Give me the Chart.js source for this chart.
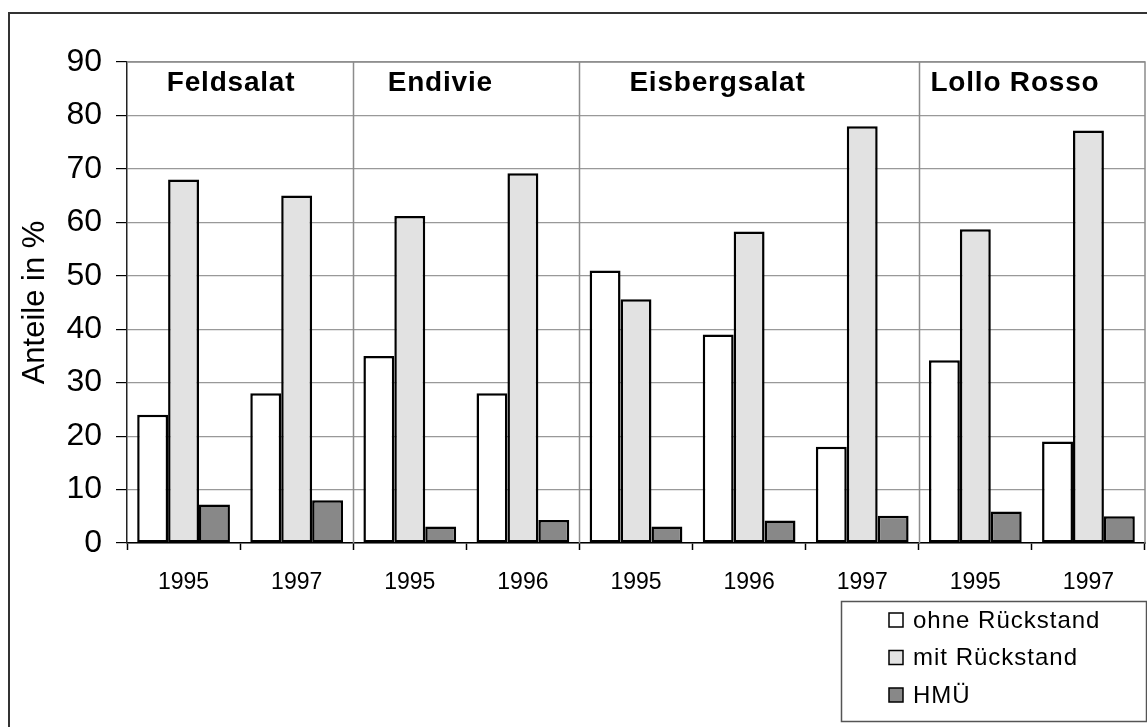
<!DOCTYPE html>
<html lang="de">
<head>
  <meta charset="utf-8">
  <title>Anteile in %</title>
  <style>
    * { box-sizing: border-box; margin: 0; padding: 0; }
    html, body { width: 1147px; height: 727px; background: #fff; overflow: hidden; }
    canvas { display: block; }
  </style>
  <script src="https://cdn.jsdelivr.net/npm/chart.js"></script>
</head>
<body>
  <canvas id="chart" width="1147" height="727"></canvas>
  <script>
    // data
    const years = ['1995', '1997', '1995', '1996', '1995', '1996', '1997', '1995', '1997'];
    const ohneRueckstand = [24, 28, 35, 28, 51, 39, 18, 34.2, 19];
    const mitRueckstand = [68, 65, 61.2, 69.2, 45.6, 58.3, 78, 58.7, 77.2];
    const hmue = [7.2, 8, 3.1, 4.3, 3.1, 4.2, 5.1, 5.9, 5];
    const yTicks = [0, 10, 20, 30, 40, 50, 60, 70, 80, 90];

    // vegetable groups: label, position (category units), boundary after group
    const groupNames = ['Feldsalat', 'Endivie', 'Eisbergsalat', 'Lollo Rosso'];
    const groupLabelAt = [0.42, 2.27, 4.72, 7.35];
    const groupBounds = [2, 4, 7];

    const FONT = "'Liberation Sans', Arial, sans-serif";

    const groupPlugin = {
      id: 'groups',
      beforeDatasetsDraw(chart) {
        const { ctx, chartArea: a } = chart;
        const cw = (a.right - a.left) / years.length;
        ctx.save();
        ctx.strokeStyle = '#8c8c8c';
        ctx.lineWidth = 1.5;
        // top and right frame of plot area
        ctx.beginPath();
        ctx.moveTo(a.left, a.top); ctx.lineTo(a.right, a.top); ctx.lineTo(a.right, a.bottom);
        ctx.stroke();
        groupBounds.forEach(b => {
          const px = Math.round(a.left + b * cw) + 0.5;
          ctx.beginPath(); ctx.moveTo(px, a.top); ctx.lineTo(px, a.bottom); ctx.stroke();
        });
        ctx.restore();
      },
      afterDraw(chart) {
        const { ctx, chartArea: a, scales: { y } } = chart;
        const cw = (a.right - a.left) / years.length;
        ctx.save();
        ctx.fillStyle = '#000';
        ctx.font = 'bold 28px ' + FONT;
        ctx.letterSpacing = '0.8px';
        ctx.textAlign = 'center';
        ctx.textBaseline = 'middle';
        groupNames.forEach((n, i) => {
          ctx.fillText(n, a.left + (groupLabelAt[i] + 0.5) * cw, y.getPixelForValue(86.1));
        });

        // outer frame
        ctx.strokeStyle = '#333';
        ctx.lineWidth = 2;
        ctx.strokeRect(9, 13, 1160, 740);

        // legend
        const box = { x: 841, y: 601, w: 305, h: 120 };
        ctx.fillStyle = '#fff';
        ctx.fillRect(box.x, box.y, box.w, box.h);
        ctx.strokeStyle = '#555';
        ctx.lineWidth = 1.5;
        ctx.strokeRect(box.x + 0.5, box.y + 0.5, box.w, box.h);
        ctx.font = '24px ' + FONT;
        ctx.letterSpacing = '1px';
        ctx.textAlign = 'left';
        chart.data.datasets.forEach((ds, i) => {
          const cy = 620 + i * 37.5;
          ctx.fillStyle = ds.backgroundColor;
          ctx.fillRect(889, cy - 7, 14, 14);
          ctx.strokeStyle = '#000';
          ctx.lineWidth = 1.5;
          ctx.strokeRect(889, cy - 7, 14, 14);
          ctx.fillStyle = '#000';
          ctx.fillText(ds.label, 913, cy + 1);
        });
        ctx.restore();
      }
    };

    new Chart(document.getElementById('chart'), {
      type: 'bar',
      data: {
        labels: years,
        datasets: [
          { label: 'ohne Rückstand', data: ohneRueckstand, backgroundColor: '#ffffff' },
          { label: 'mit Rückstand', data: mitRueckstand, backgroundColor: '#e2e2e2' },
          { label: 'HMÜ', data: hmue, backgroundColor: '#888888' }
        ]
      },
      options: {
        responsive: false,
        animation: false,
        devicePixelRatio: 1,
        layout: { padding: { top: 62, right: 2, left: 0, bottom: 0 } },
        datasets: { bar: { borderColor: '#000', borderWidth: 2.5, borderSkipped: false, categoryPercentage: 0.82, barPercentage: 1 } },
        plugins: { legend: { display: false }, tooltip: { enabled: false } },
        scales: {
          x: {
            afterFit(s) { s.height = 184; },
            grid: { offset: true, drawOnChartArea: false, drawTicks: true, tickLength: 7, tickColor: '#000', tickWidth: 1.5 },
            border: { color: '#000', width: 1.5 },
            ticks: { color: '#000', font: { family: FONT, size: 23 }, padding: 19, maxRotation: 0, autoSkip: false }
          },
          y: {
            min: 0, max: 90,
            afterFit(s) { s.width = 127; },
            afterBuildTicks(s) { s.ticks = yTicks.map(v => ({ value: v })); },
            grid: { color: '#999', lineWidth: 1.2, tickLength: 11, tickColor: '#000', tickWidth: 1.2 },
            border: { color: '#222', width: 1.5 },
            ticks: { color: '#000', font: { family: FONT, size: 32 }, padding: 14 },
            title: { display: true, text: 'Anteile in %', color: '#000', font: { family: FONT, size: 31 }, padding: { top: 17, bottom: 0 } }
          }
        }
      },
      plugins: [groupPlugin]
    });
  </script>
</body>
</html>
